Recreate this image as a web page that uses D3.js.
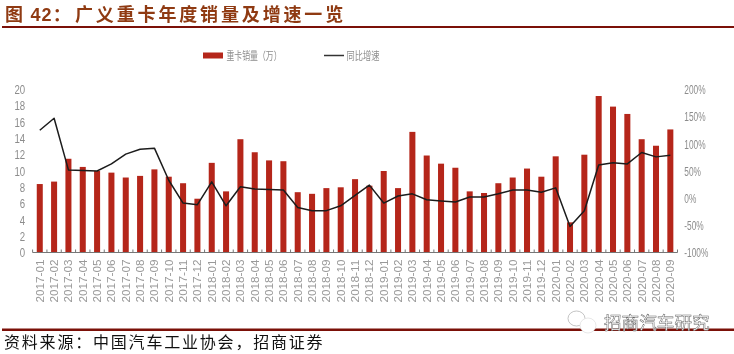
<!DOCTYPE html>
<html>
<head>
<meta charset="utf-8">
<script src="https://cdn.jsdelivr.net/npm/d3@7"></script>
<style>
  html, body { margin: 0; padding: 0; background: #fff; }
  svg { display: block; filter: blur(0.35px); }
  text { font-family: "Liberation Sans", "Noto Sans CJK SC", sans-serif; }
</style>
</head>
<body>
<script>
const months = [
  "2017-01","2017-02","2017-03","2017-04","2017-05","2017-06","2017-07","2017-08","2017-09","2017-10","2017-11","2017-12",
  "2018-01","2018-02","2018-03","2018-04","2018-05","2018-06","2018-07","2018-08","2018-09","2018-10","2018-11","2018-12",
  "2019-01","2019-02","2019-03","2019-04","2019-05","2019-06","2019-07","2019-08","2019-09","2019-10","2019-11","2019-12",
  "2020-01","2020-02","2020-03","2020-04","2020-05","2020-06","2020-07","2020-08","2020-09"
];
// 重卡销量（万）
const sales = [
  8.4,8.7,11.5,10.5,10,9.8,9.2,9.4,10.2,9.3,8.5,6.6,
  11,7.5,13.9,12.3,11.3,11.2,7.4,7.2,7.9,8,9,8.2,
  10,7.9,14.8,11.9,10.9,10.4,7.5,7.3,8.5,9.2,10.3,9.3,
  11.8,3.7,12,19.2,17.9,17,13.9,13.1,15.1
];
// 同比增速（%）
const growth = [
  125,147,52,51,50,63,81,90,92,33,-9,-12,
  30,-14,21,17,16,15,-17,-23,-23,-14,5,24,
  -9,4,8,-3,-5,-7,2,2,8,15,15,11,
  19,-52,-23,61,65,63,84,76,79
];
const leftTicks = d3.range(0, 21, 2);
const rightTicks = [-100, -50, 0, 50, 100, 150, 200];

const width = 734, height = 354;
const margin = { top: 89.5, right: 56.5, bottom: 101.5, left: 32.6 };
const red = "#b5261a", brown = "#7b1008", grey = "#8c8c8c";

const svg = d3.select("body").append("svg").attr("width", width).attr("height", height);

const x = d3.scaleBand().domain(months).range([margin.left, width - margin.right]).paddingInner(0.58).paddingOuter(0.29);
const yLeft = d3.scaleLinear().domain([0, 20]).range([height - margin.bottom, margin.top]);
const yRight = d3.scaleLinear().domain([-100, 200]).range([height - margin.bottom, margin.top]);

// squeeze a label sideways, the picture's tick text is condensed
function condense(sel, k) {
  sel.each(function () {
    const w = this.getComputedTextLength();
    d3.select(this).attr("textLength", w * k).attr("lengthAdjust", "spacingAndGlyphs");
  });
}

// title and rules
const title = svg.append("text").attr("x", 5).attr("y", 20.5)
  .attr("font-weight", 700).attr("fill", "#8f3a12");
title.append("tspan").attr("font-size", 18).style("letter-spacing", "1.2px").text("图 42：");
title.append("tspan").attr("x", 75).attr("font-size", 18).style("letter-spacing", "2.85px").text("广义重卡年度销量及增速一览");
svg.append("line").attr("x1", 2).attr("x2", width).attr("y1", 27).attr("y2", 27)
  .attr("stroke", brown).attr("stroke-width", 2);
svg.append("line").attr("x1", 2).attr("x2", width).attr("y1", 329.7).attr("y2", 329.7)
  .attr("stroke", brown).attr("stroke-width", 2.6);
svg.append("text").attr("x", 4).attr("y", 348)
  .attr("font-size", 16).attr("fill", "#111")
  .style("letter-spacing", "1.8px")
  .text("资料来源：中国汽车工业协会，招商证券");

// bars
svg.append("g").selectAll("rect").data(months).join("rect")
  .attr("x", d => x(d))
  .attr("width", x.bandwidth())
  .attr("y", (d, i) => yLeft(sales[i]))
  .attr("height", (d, i) => yLeft(0) - yLeft(sales[i]))
  .attr("fill", red);

// growth line
const line = d3.line().x((d, i) => x(months[i]) + x.bandwidth() / 2).y(d => yRight(d));
svg.append("path").datum(growth).attr("d", line)
  .attr("fill", "none").attr("stroke", "#1c1c1c").attr("stroke-width", 1.5).attr("stroke-linejoin", "round");

// axes
const xAxis = svg.append("g").attr("transform", `translate(0,${height - margin.bottom})`)
  .call(d3.axisBottom(d3.scalePoint().domain(months).range([x(months[0]) + x.bandwidth() / 2, x(months[44]) + x.bandwidth() / 2])).tickSize(0));
xAxis.select(".domain").remove();
xAxis.selectAll("text")
  .attr("transform", "rotate(-90)")
  .attr("text-anchor", "end")
  .attr("x", -7).attr("y", 0).attr("dy", "0.35em")
  .attr("font-size", 10).attr("fill", "#999")
  .attr("textLength", 43).attr("lengthAdjust", "spacingAndGlyphs");
svg.append("line").attr("x1", margin.left).attr("x2", width - margin.right)
  .attr("y1", yLeft(0)).attr("y2", yLeft(0)).attr("stroke", "#777").attr("stroke-width", 1.2);
// tick marks sit between the months
svg.append("g").selectAll("line").data(months.concat("end")).join("line")
  .attr("x1", (d, i) => margin.left + i * x.step())
  .attr("x2", (d, i) => margin.left + i * x.step())
  .attr("y1", yLeft(0) - 3).attr("y2", yLeft(0))
  .attr("stroke", "#777");

const leftAxis = svg.append("g").attr("transform", `translate(${margin.left},0)`)
  .call(d3.axisLeft(yLeft).tickValues(leftTicks).tickSize(0).tickPadding(7.5));
leftAxis.select(".domain").remove();
leftAxis.selectAll("text").attr("font-size", 13).attr("fill", grey).call(condense, 0.74);

const rightAxis = svg.append("g").attr("transform", `translate(${width - margin.right},0)`)
  .call(d3.axisRight(yRight).tickValues(rightTicks).tickFormat(d => d + "%").tickSize(0).tickPadding(6.8));
rightAxis.select(".domain").remove();
rightAxis.selectAll("text").attr("font-size", 13).attr("fill", grey).call(condense, 0.64);

// legend
svg.append("rect").attr("x", 203).attr("y", 52.5).attr("width", 20).attr("height", 6).attr("fill", red);
svg.append("text").attr("x", 226.5).attr("y", 60).attr("font-size", 11).attr("fill", grey)
  .attr("textLength", 55).attr("lengthAdjust", "spacingAndGlyphs").text("重卡销量（万）");
svg.append("line").attr("x1", 324).attr("x2", 344).attr("y1", 55.5).attr("y2", 55.5).attr("stroke", "#333").attr("stroke-width", 1.5);
svg.append("text").attr("x", 346.5).attr("y", 60).attr("font-size", 11).attr("fill", grey)
  .attr("textLength", 33).attr("lengthAdjust", "spacingAndGlyphs").text("同比增速");

// watermark, wechat bubbles and account name
const mark = svg.append("g").attr("fill", "#fff");
mark.append("ellipse").attr("cx", 576.5).attr("cy", 318.5).attr("rx", 8.5).attr("ry", 7.5)
  .attr("stroke", "#aaa").attr("stroke-width", 0.7);
mark.append("ellipse").attr("cx", 588).attr("cy", 325.5).attr("rx", 8).attr("ry", 7.5)
  .attr("stroke", "#ddd").attr("stroke-width", 0.7);
svg.append("text").attr("x", 604).attr("y", 329).attr("font-size", 17.6).attr("fill", "#fff")
  .attr("stroke", "#666").attr("stroke-width", 0.5).text("招商汽车研究");
</script>
</body>
</html>
